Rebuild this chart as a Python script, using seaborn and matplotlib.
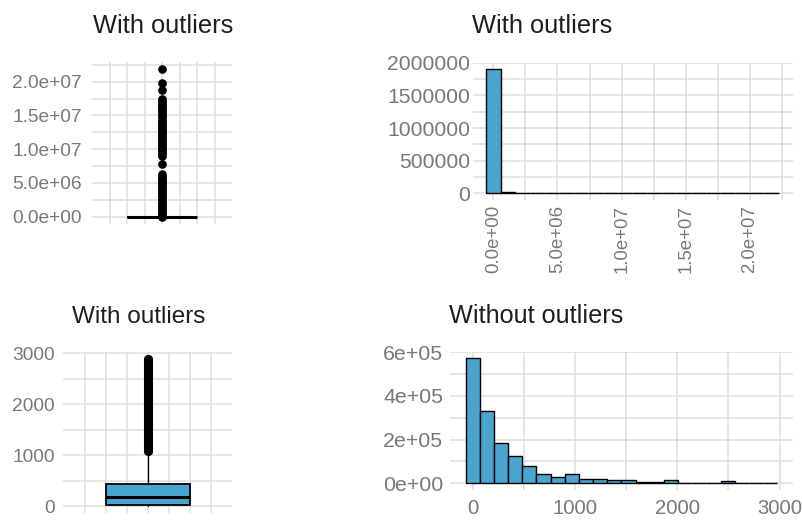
import numpy as np
import pandas as pd
import matplotlib
matplotlib.use("Agg")
import matplotlib.pyplot as plt
import seaborn as sns

# ---------------- data ----------------
titles = ["With outliers", "With outliers", "With outliers", "Without outliers"]

# top-left boxplot (full data)
box1_stats = dict(q1=20, med=183, q3=432, whislo=0, whishi=1080)
box1_outliers = [21900000, 19750000, 18800000,
                 17400000, 17100000, 16800000, 16500000, 16200000, 15900000, 15600000,
                 15300000, 15000000, 14700000, 14400000, 14100000, 13800000, 13500000,
                 13200000, 12900000, 12600000, 12300000, 12000000, 11700000, 11400000,
                 11100000, 10800000, 10500000, 10200000, 9900000, 9600000, 9300000, 9000000,
                 7750000,
                 6400000, 6100000, 5800000, 5500000, 5200000, 4900000, 4600000, 4300000,
                 4000000, 3700000, 3400000, 3100000, 2800000, 2500000, 2200000, 1900000,
                 1600000, 1300000, 1000000, 700000, 400000, 100000, 0]

# top-right histogram (full data), 20 bins
hist1_binwidth = 1140000
hist1_counts = [1906000, 26000, 5000, 3000, 2000, 1500, 1000, 800, 700, 600,
                500, 400, 300, 300, 200, 200, 150, 100, 100, 50]

# bottom-left boxplot (values < 3000)
box2_stats = dict(q1=20, med=183, q3=432, whislo=0, whishi=1080)
box2_outliers = [1090, 1140, 1190, 1240, 1290, 1340, 1390, 1440, 1490, 1540, 1590,
                 1640, 1690, 1740, 1790, 1840, 1890, 1940, 1990, 2040, 2090, 2140,
                 2190, 2240, 2290, 2340, 2390, 2440, 2490, 2540, 2590, 2640, 2690,
                 2740, 2790, 2840, 2890]

# bottom-right histogram, 22 bins
hist2_binwidth = 138.5
hist2_counts = [571000, 332000, 183000, 125000, 79000, 43000, 27000, 43000, 18000,
                18000, 15000, 14000, 8000, 8000, 17000, 3000, 3000, 3000, 10000,
                3000, 3000, 2000]

# tick labels
tl_yticks = [0, 5e6, 1e7, 1.5e7, 2e7]
tl_ylabels = ["0.0e+00", "5.0e+06", "1.0e+07", "1.5e+07", "2.0e+07"]
tr_yticks = [0, 500000, 1000000, 1500000, 2000000]
tr_ylabels = ["0", "500000", "1000000", "1500000", "2000000"]
tr_xticks = [0, 5e6, 1e7, 1.5e7, 2e7]
tr_xlabels = ["0.0e+00", "5.0e+06", "1.0e+07", "1.5e+07", "2.0e+07"]
bl_yticks = [0, 1000, 2000, 3000]
bl_ylabels = ["0", "1000", "2000", "3000"]
br_yticks = [0, 2e5, 4e5, 6e5]
br_ylabels = ["0e+00", "2e+05", "4e+05", "6e+05"]
br_xticks = [0, 1000, 2000, 3000]
br_xlabels = ["0", "1000", "2000", "3000"]

# ---------------- style ----------------
sns.set_theme(style="white")
plt.rcParams["font.family"] = ["Liberation Sans", "DejaVu Sans"]

FILL = "#4AA5CE"
GRID = "#dedede"
TICKC = "#787878"
TITLEC = "#1e1e1e"

W, H = 803, 521
fig = plt.figure(figsize=(W / 100, H / 100), dpi=100)


def px_axes(l, t, r, b):
    return fig.add_axes([l / W, 1 - b / H, (r - l) / W, (b - t) / H])


def style(ax, ypad, yfs, xpad=3, xfs=14):
    for s in ax.spines.values():
        s.set_visible(False)
    ax.grid(which="both", color=GRID, linewidth=1.1)
    ax.set_axisbelow(True)
    ax.tick_params(which="both", length=0)
    ax.tick_params(axis="y", pad=ypad, labelsize=yfs, labelcolor=TICKC)
    ax.tick_params(axis="x", pad=xpad, labelsize=xfs, labelcolor=TICKC)
    ax.set_xlabel("")
    ax.set_ylabel("")


def title(x_px, y_px, text, fs):
    fig.text(x_px / W, 1 - y_px / H, text, ha="left", va="baseline",
             fontsize=fs, color=TITLEC)


box_grid = [-0.6, -0.4, -0.2, 0.0, 0.2, 0.4, 0.6]


def draw_box(ax, stats, outliers, msize):
    st = dict(stats)
    st["fliers"] = outliers
    ax.bxp([st], positions=[0], widths=0.8, patch_artist=True, showcaps=False,
           boxprops=dict(facecolor=FILL, edgecolor="black", linewidth=1.3),
           medianprops=dict(color="black", linewidth=2.2),
           whiskerprops=dict(color="black", linewidth=1.0),
           flierprops=dict(marker="o", markerfacecolor="black",
                           markeredgecolor="black", markersize=msize))


def draw_hist(ax, counts, binwidth):
    centers = np.arange(len(counts)) * binwidth
    df = pd.DataFrame({"value": centers, "count": counts})
    sns.histplot(data=df, x="value", weights="count", binwidth=binwidth,
                 binrange=(centers[0] - binwidth / 2, centers[-1] + binwidth / 2),
                 ax=ax, color=FILL, edgecolor="black", linewidth=1.0, alpha=1)


# ---- top-left: boxplot with outliers ----
ax1 = px_axes(92, 61.6, 232, 224.4)
draw_box(ax1, box1_stats, box1_outliers, 5.2)
ax1.set_xlim(-0.8, 0.8)
ax1.set_ylim(-1.14e6, 22.98e6)
ax1.set_xticks(box_grid)
ax1.set_xticklabels([])
ax1.set_yticks(tl_yticks)
ax1.set_yticklabels(tl_ylabels)
ax1.set_yticks([2.5e6, 7.5e6, 12.5e6, 17.5e6, 22.5e6], minor=True)
style(ax1, ypad=7.4, yfs=13.8)
title(93, 33.3, titles[0], 18.3)

# ---- top-right: histogram with outliers ----
ax2 = px_axes(473, 62.8, 793, 199.5)
draw_hist(ax2, hist1_counts, hist1_binwidth)
ax2.set_xlim(-1.58e6, 2.334e7)
ax2.set_ylim(-9.5e4, 2.0015e6)
ax2.set_yticks(tr_yticks)
ax2.set_yticklabels(tr_ylabels)
ax2.set_yticks([250000, 750000, 1250000, 1750000], minor=True)
ax2.set_xticks(tr_xticks)
ax2.set_xticklabels(tr_xlabels, rotation=90)
ax2.set_xticks([2.5e6, 7.5e6, 12.5e6, 17.5e6, 22.5e6], minor=True)
style(ax2, ypad=2.2, yfs=15.2, xpad=4, xfs=13.4)
title(472, 33.3, titles[1], 18.3)

# ---- bottom-left: boxplot ----
ax3 = px_axes(63, 351.7, 232, 513.3)
draw_box(ax3, box2_stats, box2_outliers, 5.6)
ax3.set_xlim(-0.81, 0.80)
ax3.set_ylim(-143, 3031)
ax3.set_xticks(box_grid)
ax3.set_xticklabels([])
ax3.set_yticks(bl_yticks)
ax3.set_yticklabels(bl_ylabels)
ax3.set_yticks([500, 1500, 2500], minor=True)
style(ax3, ypad=5.8, yfs=13.8)
title(72, 323.3, titles[2], 17.5)

# ---- bottom-right: histogram without outliers ----
ax4 = px_axes(450, 352, 793, 489.6)
draw_hist(ax4, hist2_counts, hist2_binwidth)
ax4.set_xlim(-222, 3131)
ax4.set_ylim(-2.88e4, 5.995e5)
ax4.set_yticks(br_yticks)
ax4.set_yticklabels(br_ylabels)
ax4.set_yticks([1e5, 3e5, 5e5], minor=True)
ax4.set_xticks(br_xticks)
ax4.set_xticklabels(br_xlabels)
ax4.set_xticks([500, 1500, 2500], minor=True)
style(ax4, ypad=4.8, yfs=15.4, xpad=6.5, xfs=14.6)
title(449, 323.3, titles[3], 18.2)

fig.savefig("out.png", dpi=100)
